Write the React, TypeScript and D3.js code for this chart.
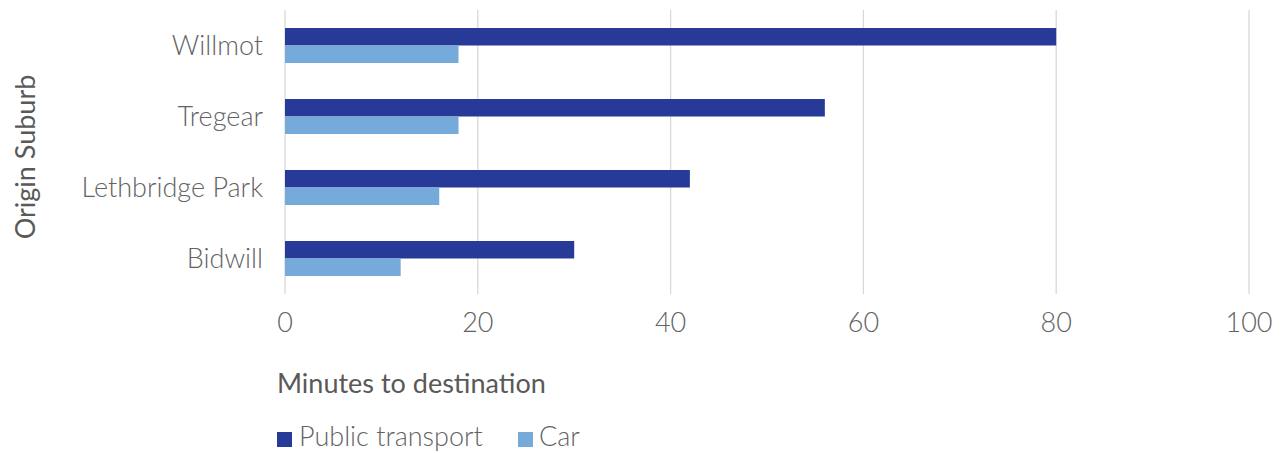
import React from "react";
import * as d3 from "d3";

const categories = ["Willmot", "Tregear", "Lethbridge Park", "Bidwill"];
const seriesNames = ["Public transport", "Car"];
const publicTransport = [80, 56, 42, 30];
const car = [18, 18, 16, 12];
const xTicks = [0, 20, 40, 60, 80, 100];

const colors = ["#283A97", "#75AADB"];
const W = 1286;
const H = 453;
const margin = { left: 285, right: 37, top: 10, bottom: 159 };

export default function App() {
  const x = d3.scaleLinear().domain([0, 100]).range([margin.left, W - margin.right]);
  const y = d3
    .scaleBand<string>()
    .domain(categories)
    .range([margin.top, H - margin.bottom])
    .paddingInner(0.507)
    .paddingOuter(0.2535);
  const sub = d3.scaleBand<string>().domain(seriesNames).range([0, y.bandwidth()]);
  const series = [publicTransport, car];
  const textColor = "#595959";
  const lightColor = "#636363";
  const light = "'Lato Light', Lato, sans-serif";
  const regular = "Lato, sans-serif";
  const plotTop = margin.top;
  const plotBottom = H - margin.bottom;
  const step = y.step();

  return (
    <svg width={W} height={H} style={{ position: "absolute", left: 0, top: 0, background: "#fff" }}>
      {xTicks.map((t) => (
        <line key={"g" + t} x1={x(t)} x2={x(t)} y1={plotTop} y2={plotBottom} stroke="#D9D9D9" strokeWidth={1.3} />
      ))}
      {categories.map((c, i) =>
        series.map((s, j) => (
          <rect
            key={c + j}
            x={x(0)}
            y={(y(c) as number) + (sub(seriesNames[j]) as number)}
            width={x(s[i]) - x(0)}
            height={sub.bandwidth()}
            fill={colors[j]}
          />
        ))
      )}
      {categories.map((c) => (
        <text
          key={"l" + c}
          x={263}
          y={(y(c) as number) + y.bandwidth() / 2}
          dy="0.37em"
          textAnchor="end"
          fontFamily={light}
          fontWeight={300}
          fontSize={27}
          fill={lightColor}
        >
          {c}
        </text>
      ))}
      {xTicks.map((t) => (
        <text
          key={"t" + t}
          x={x(t)}
          y={332}
          textAnchor="middle"
          fontFamily={light}
          fontWeight={300}
          fontSize={27}
          fill={lightColor}
        >
          {t}
        </text>
      ))}
      <text x={277} y={392.5} fontFamily={regular} fontWeight={400} fontSize={27} fill={textColor}>
        Minutes to destination
      </text>
      <text
        transform={`translate(35, ${plotTop + step * 2 + 5}) rotate(-90)`}
        textAnchor="middle"
        fontFamily={regular}
        fontWeight={400}
        fontSize={27}
        fill={textColor}
      >
        Origin Suburb
      </text>
      <rect x={277} y={432} width={15} height={15} fill={colors[0]} />
      <text x={299} y={446} fontFamily={light} fontWeight={300} fontSize={27} fill={lightColor}>
        {seriesNames[0]}
      </text>
      <rect x={518} y={432} width={15} height={15} fill={colors[1]} />
      <text x={539} y={446} fontFamily={light} fontWeight={300} fontSize={27} fill={lightColor}>
        {seriesNames[1]}
      </text>
    </svg>
  );
}
